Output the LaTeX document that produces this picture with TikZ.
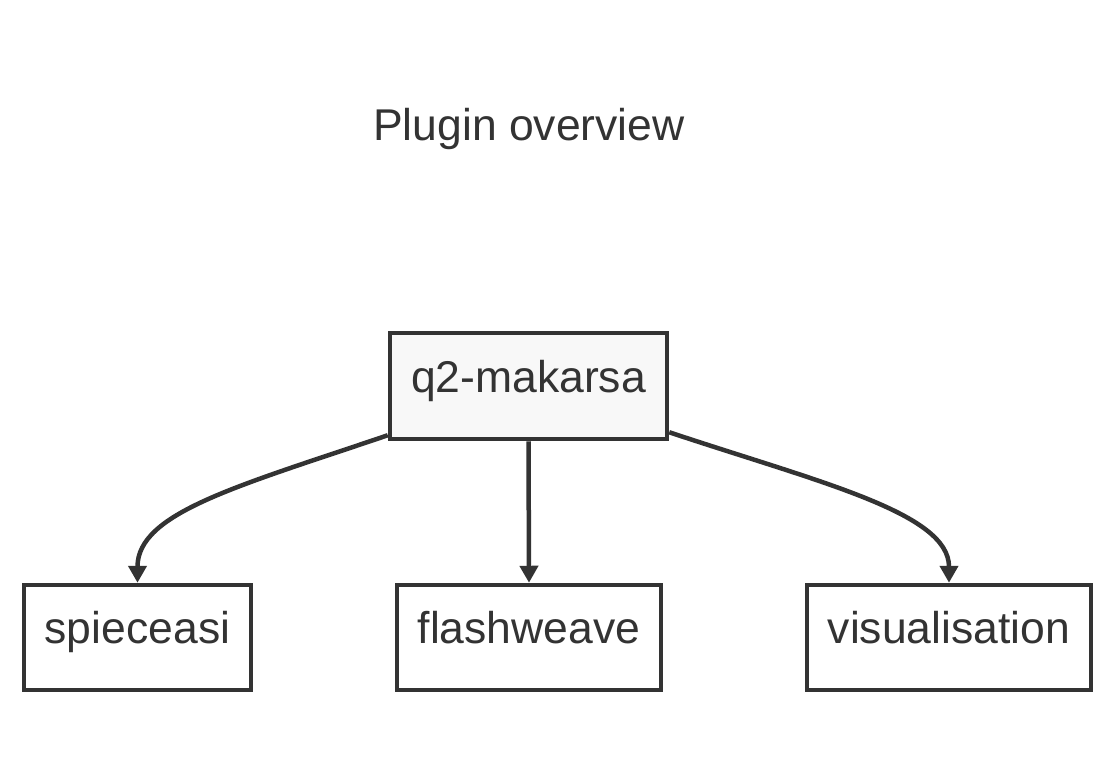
\documentclass[tikz,border=0pt]{standalone}
\usepackage{fontspec}
\setmainfont{Liberation Sans}
\usepackage{tikz}
\usetikzlibrary{arrows.meta}
\definecolor{ink}{HTML}{333333}
\definecolor{paleFill}{HTML}{F8F8F8}
\tikzset{
  pluginbox/.style={draw=ink, line width=4.5pt, fill=white, text=ink, inner sep=0pt,
    minimum height=105pt, text height=31pt, text depth=19pt, font=\fontsize{44.5}{53}\selectfont},
  flow/.style={draw=ink, line width=4.5pt, -{Triangle[length=17pt,width=18pt]}},
}

\begin{document}
\begin{tikzpicture}[x=1pt, y=-1pt]
\useasboundingbox (0,0) rectangle (1116,774);

\node[text=ink, text height=31pt, text depth=19pt, font=\fontsize{44.5}{53}\selectfont] (title) at (529,134) {Plugin overview};

\node[pluginbox, fill=paleFill, minimum width=277pt, minimum height=106pt] (makarsa) at (528.5,386) {q2-makarsa};
\node[pluginbox, minimum width=227pt] (spieceasi) at (137.5,637.5) {spieceasi};
\node[pluginbox, minimum width=264pt] (flashweave) at (529,637.5) {flashweave};
\node[pluginbox, minimum width=284pt] (visualisation) at (949,637.5) {visualisation};

\draw[flow] ([yshift=6pt]makarsa.south west) .. controls +(-150,51) and +(0,-70) .. (spieceasi.north);
\draw[flow] (makarsa.south) -- (flashweave.north);
\draw[flow] ([yshift=9pt]makarsa.south east) .. controls +(150,50) and +(0,-70) .. (visualisation.north);
\end{tikzpicture}
\end{document}
